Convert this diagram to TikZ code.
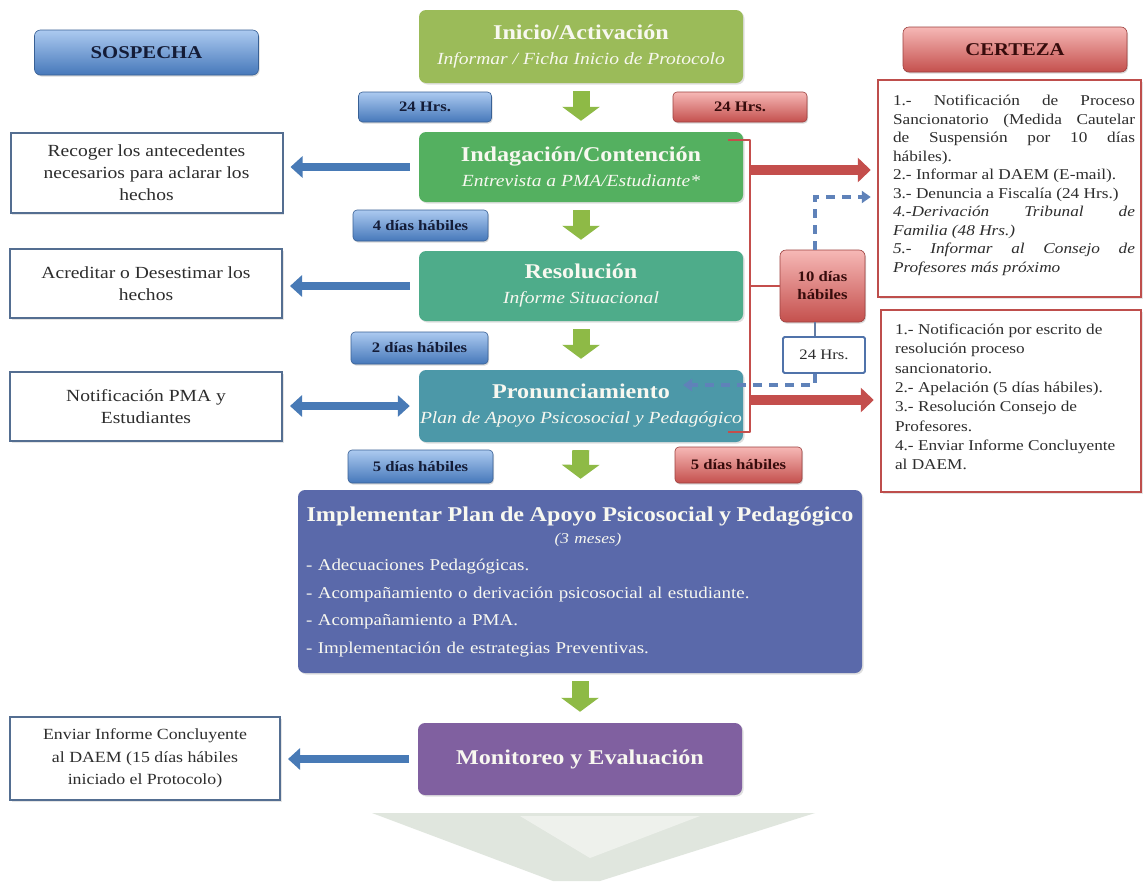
\documentclass[tikz,border=0pt]{standalone}
\usepackage{fontspec}
\setmainfont{Liberation Serif}[FakeStretch=1.15]
\usetikzlibrary{arrows.meta,shadows}

\definecolor{inicioC}{RGB}{155,187,89}
\definecolor{indagC}{RGB}{84,176,96}
\definecolor{resolC}{RGB}{78,172,138}
\definecolor{pronC}{RGB}{76,152,168}
\definecolor{planC}{RGB}{90,105,170}
\definecolor{monC}{RGB}{128,96,160}
\definecolor{boxtext}{RGB}{248,248,240}
\definecolor{greenArr}{RGB}{142,186,70}
\definecolor{blueArr}{RGB}{72,122,182}
\definecolor{redArr}{RGB}{196,78,76}
\definecolor{leftEdge}{RGB}{84,110,145}
\definecolor{rightEdge}{RGB}{190,78,76}
\definecolor{dashBlue}{RGB}{95,130,185}
\definecolor{blueTop}{RGB}{172,202,240}
\definecolor{blueBot}{RGB}{70,120,186}
\definecolor{redTop}{RGB}{246,184,182}
\definecolor{redBot}{RGB}{196,80,77}
\definecolor{navyText}{RGB}{20,28,55}
\definecolor{maroonText}{RGB}{55,12,12}
\definecolor{bodyText}{RGB}{45,45,45}
\definecolor{hrsEdge}{RGB}{80,115,170}
\definecolor{linkGray}{RGB}{100,125,165}
\definecolor{wmDark}{RGB}{224,230,222}
\definecolor{wmLight}{RGB}{238,241,236}

\newcommand\boxtitle[1]{{\fontsize{21}{25}\selectfont\bfseries #1}}
\newcommand\boxsub[1]{{\fontsize{17}{25}\selectfont\itshape #1}}

\begin{document}
\begin{tikzpicture}[x=1pt,y=-1pt,
  stage/.style={rounded corners=7pt, minimum width=324pt, minimum height=70pt,
    inner sep=0pt, align=center, text=boxtext, font=\fontsize{17}{25}\selectfont,
    drop shadow={opacity=0.25, shadow xshift=1.5pt, shadow yshift=-1.5pt}},
  leftbox/.style={draw=leftEdge, line width=2pt, fill=white, minimum width=272pt,
    inner sep=0pt, align=center, text=bodyText, font=\fontsize{17}{22}\selectfont,
    drop shadow={opacity=0.2, shadow xshift=1.5pt, shadow yshift=-1.5pt}},
  rightbox/.style={draw=rightEdge, line width=2.5pt, fill=white, inner sep=0pt,
    text=bodyText, font=\fontsize{15}{18.5}\selectfont,
    drop shadow={opacity=0.2, shadow xshift=1.5pt, shadow yshift=-1.5pt}},
  bluetag/.style={rounded corners=4pt, draw=blueBot!80!black, line width=0.6pt,
    top color=blueTop, bottom color=blueBot, text=navyText, inner sep=0pt,
    font=\fontsize{14.5}{17}\selectfont\bfseries,
    drop shadow={opacity=0.3, shadow xshift=1pt, shadow yshift=-1.5pt}},
  redtag/.style={rounded corners=4pt, draw=redBot!80!black, line width=0.6pt,
    top color=redTop, bottom color=redBot, text=maroonText, inner sep=0pt,
    font=\fontsize{14.5}{17}\selectfont\bfseries,
    drop shadow={opacity=0.3, shadow xshift=1pt, shadow yshift=-1.5pt}},
  headtag/.style={font=\fontsize{18}{20}\selectfont\bfseries, minimum width=224pt,
    minimum height=45pt, rounded corners=6pt},
  hrsbox/.style={draw=hrsEdge, line width=1.8pt, fill=white, rounded corners=1.5pt,
    inner sep=0pt, text=bodyText, font=\fontsize{14.5}{17}\selectfont},
  down/.style={draw=greenArr, line width=17pt, -{Triangle[width=37pt,length=14pt]},
    shorten <=8pt, shorten >=11pt},
  toleft/.style={draw=blueArr, line width=8pt, -{Triangle[width=21pt,length=12pt]},
    shorten <=9pt, shorten >=7pt},
  twoway/.style={draw=blueArr, line width=8pt,
    {Triangle[width=21pt,length=12pt]}-{Triangle[width=21pt,length=12pt]},
    shorten <=9pt, shorten >=7pt},
  toright/.style={draw=redArr, line width=10pt, -{Triangle[width=24pt,length=13pt]},
    shorten >=6pt},
  bracket/.style={draw=redArr, line width=2.5pt},
  dashlink/.style={draw=dashBlue, line width=3.5pt, dash pattern=on 9pt off 7pt,
    -{Triangle[width=12pt,length=9pt]}},
]
\useasboundingbox (0,0) rectangle (1143,881);
\fill[white] (0,0) rectangle (1143,881);

% faint emblem at the foot of the page
\fill[wmDark] (372,813) -- (815,813) -- (600,881) -- (553,881) -- cycle;
\fill[wmLight] (520,816) -- (700,816) -- (590,858) -- cycle;

% column headings
\node[bluetag, headtag] (sosp) at (146.5,52.5) {SOSPECHA};
\node[redtag, headtag] (cert) at (1015,49.5) {CERTEZA};

% central stages
\node[stage, fill=inicioC, minimum height=73pt] (inicio) at (581,46.5)
  {\boxtitle{Inicio/Activación}\\ \boxsub{Informar / Ficha Inicio de Protocolo}};
\node[stage, fill=indagC] (indag) at (581,167)
  {\boxtitle{Indagación/Contención}\\ \boxsub{Entrevista a PMA/Estudiante*}};
\node[stage, fill=resolC] (resol) at (581,286)
  {\boxtitle{Resolución}\\ \boxsub{Informe Situacional}};
\node[stage, fill=pronC, minimum height=72pt] (pronun) at (581,406)
  {\boxtitle{Pronunciamiento}\\ \boxsub{Plan de Apoyo Psicosocial y Pedagógico}};
\node[stage, fill=planC, minimum width=564pt, minimum height=183pt, align=left,
  text width=548pt, font=\fontsize{16.5}{27.5}\selectfont] (plan) at (580,581.5)
  {\makebox[548pt]{\boxtitle{Implementar Plan de Apoyo Psicosocial y Pedagógico}}\\[-5.5pt]
   \makebox[548pt]{\hspace{16pt}{\fontsize{15}{20}\selectfont\itshape (3 meses)}}\\
   - Adecuaciones Pedagógicas.\\
   - Acompañamiento o derivación psicosocial al estudiante.\\
   - Acompañamiento a PMA.\\
   - Implementación de estrategias Preventivas.};
\node[stage, fill=monC, minimum height=72pt] (monit) at (580,759)
  {\boxtitle{Monitoreo y Evaluación}};

% time labels
\node[bluetag, minimum width=133pt, minimum height=30pt] (t24a) at (425,107) {24 Hrs.};
\node[redtag, minimum width=134pt, minimum height=30pt] (t24b) at (740,107) {24 Hrs.};
\node[bluetag, minimum width=135pt, minimum height=31pt] (t4) at (420.5,225.5) {4 días hábiles};
\node[bluetag, minimum width=137pt, minimum height=32pt] (t2) at (419.5,348) {2 días hábiles};
\node[bluetag, minimum width=145pt, minimum height=33pt] (t5a) at (420.5,466.5) {5 días hábiles};
\node[redtag, minimum width=127pt, minimum height=36pt] (t5b) at (738.5,465) {5 días hábiles};

% suspicion actions
\node[leftbox, minimum height=80pt] (L1) at (146.5,173)
  {Recoger los antecedentes\\ necesarios para aclarar los\\ hechos};
\node[leftbox, minimum height=69pt] (L2) at (146,283.5)
  {Acreditar o Desestimar los\\ hechos};
\node[leftbox, minimum height=69pt] (L3) at (146,406.5)
  {Notificación PMA y\\ Estudiantes};
\node[leftbox, minimum width=270pt, minimum height=83pt,
  font=\fontsize{15.5}{22.5}\selectfont] (L4) at (145,758.5)
  {Enviar Informe Concluyente\\ al DAEM (15 días hábiles\\ iniciado el Protocolo)};

% certainty actions
\node[rightbox] (R1) at (1009.5,188.5)
  {\hspace*{15pt}\parbox[c][217pt][t]{242pt}{\vspace*{15pt}%
   \makebox[242pt][s]{1.- Notificación de Proceso}\\
   \makebox[242pt][s]{Sancionatorio (Medida Cautelar}\\
   \makebox[242pt][s]{de Suspensión por 10 días}\\
   hábiles).\\
   2.- Informar al DAEM (E-mail).\\
   3.- Denuncia a Fiscalía (24 Hrs.)\\
   \makebox[242pt][s]{\itshape 4.-Derivación Tribunal de}\\
   {\itshape Familia (48 Hrs.)}\\
   \makebox[242pt][s]{\itshape 5.- Informar al Consejo de}\\
   {\itshape Profesores más próximo}}\hspace*{6pt}};
\node[rightbox, font=\fontsize{15}{19.3}\selectfont] (R2) at (1011,401)
  {\hspace*{14pt}\parbox[c][182pt][t]{240pt}{\raggedright\vspace*{14pt}%
   1.- Notificación por escrito de\\
   resolución proceso\\
   sancionatorio.\\
   2.- Apelación (5 días hábiles).\\
   3.- Resolución Consejo de\\
   Profesores.\\
   4.- Enviar Informe Concluyente\\
   al DAEM.}\hspace*{6pt}};

% time limit of the sanction process
\node[redtag, rounded corners=6pt, minimum width=85pt, minimum height=72pt,
  align=center, font=\fontsize{14.5}{18}\selectfont\bfseries] (dias10) at (822.5,286)
  {10 días\\ hábiles};
\node[hrsbox, minimum width=82pt, minimum height=36pt] (h24) at (824,355) {24 Hrs.};

% flow between stages
\draw[down] (inicio) -- (indag);
\draw[down] (indag) -- (resol);
\draw[down] (resol) -- (pronun);
\draw[down] (pronun) -- (plan);
\draw[down] (plan) -- (monit);

% arrows to the suspicion column
\draw[toleft] (indag.west) -- (L1.east |- indag.west);
\draw[toleft] (resol.west) -- (L2.east |- resol.west);
\draw[twoway] (pronun.west) -- (L3.east |- pronun.west);
\draw[toleft] (monit.west) -- (L4.east |- monit.west);

% bracket joining the stages on the certainty side
\coordinate (bti) at (728,140);
\coordinate (bt) at (750,140);
\coordinate (bb) at (750,432);
\coordinate (bbi) at (728,432);
\draw[bracket, line join=round] (bti) -- (bt) -- (bb) -- (bbi);
\draw[bracket] (bt |- dias10.west) -- (dias10.west);

% arrows to the certainty column
\coordinate (ra1) at (750,170);
\coordinate (ra2) at (750,400);
\draw[toright] (ra1) -- (R1.west |- ra1);
\draw[toright] (ra2) -- (R2.west |- ra2);

% dashed links of the 10-day and 24-hour limits
\coordinate (dv) at (815,0);
\coordinate (dtop) at (815,197);
\coordinate (dbot) at (815,385);
\coordinate (dend) at (683,385);
\draw[dashlink, shorten >=6pt] (dv |- dias10.north) -- (dtop) -- (R1.west |- dtop);
\draw[draw=linkGray, line width=2pt] (dv |- dias10.south) -- (dv |- h24.north);
\draw[dashlink] (dv |- h24.south) -- (dbot) -- (dend);
\end{tikzpicture}
\end{document}
